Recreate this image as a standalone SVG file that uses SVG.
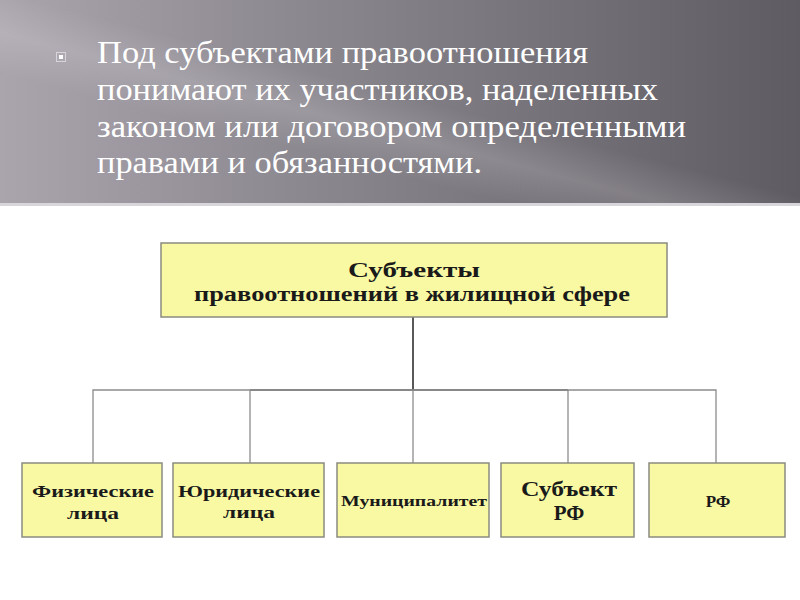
<svg xmlns="http://www.w3.org/2000/svg" width="800" height="600" viewBox="0 0 800 600">
<defs>
<linearGradient id="hdr" x1="0" y1="0" x2="1" y2="0">
<stop offset="0" stop-color="#aaa4ad"/>
<stop offset="0.35" stop-color="#8e8a92"/>
<stop offset="1" stop-color="#5f5b62"/>
</linearGradient>
<linearGradient id="streak" x1="0" y1="1" x2="1" y2="0">
<stop offset="0" stop-color="#ffffff" stop-opacity="0"/>
<stop offset="0.32" stop-color="#ffffff" stop-opacity="0"/>
<stop offset="0.42" stop-color="#ffffff" stop-opacity="0.14"/>
<stop offset="0.52" stop-color="#ffffff" stop-opacity="0"/>
<stop offset="1" stop-color="#ffffff" stop-opacity="0"/>
</linearGradient>
</defs>
<style>
.hd{font-size:31px;fill:#ffffff}
.box{fill:#f9f9a3;stroke:#8a8a80;stroke-width:1.5}
.lbl{font-weight:bold;fill:#1a1a1a;text-anchor:middle}
.con{stroke:#8c8c8c;stroke-width:1.3;fill:none}
</style>
<rect x="0" y="0" width="800" height="600" fill="#ffffff"/>
<rect x="0" y="0" width="800" height="205" fill="url(#hdr)"/>
<rect x="0" y="0" width="800" height="205" fill="url(#streak)"/>
<rect x="0" y="203" width="800" height="3" fill="#d8d6da"/>
<g id="bullet">
<rect x="56.5" y="52.5" width="9" height="9" fill="none" stroke="#d8d4dc" stroke-width="1"/>
<rect x="59" y="55" width="4" height="4" fill="#ffffff"/>
</g>
<g id="heading" font-family="Liberation Serif, serif">
<text class="hd" x="97" y="63" textLength="491" lengthAdjust="spacingAndGlyphs">Под субъектами правоотношения</text>
<text class="hd" x="97" y="100" textLength="561" lengthAdjust="spacingAndGlyphs">понимают их участников, наделенных</text>
<text class="hd" x="97" y="137" textLength="589" lengthAdjust="spacingAndGlyphs">законом или договором определенными</text>
<text class="hd" x="97" y="173" textLength="385" lengthAdjust="spacingAndGlyphs">правами и обязанностями.</text>
</g>
<g id="connectors">
<line x1="413" y1="317" x2="413" y2="390" stroke="#222" stroke-width="1.5"/>
<line x1="250" y1="390" x2="568" y2="390" stroke="#555" stroke-width="1.5"/>
<polyline class="con" points="93,463 93,390 716,390 716,463"/>
<line class="con" x1="250" y1="390" x2="250" y2="463"/>
<line class="con" x1="413" y1="390" x2="413" y2="463"/>
<line class="con" x1="568" y1="390" x2="568" y2="463"/>
</g>
<g font-family="Liberation Serif, serif">
<g id="root">
<rect class="box" x="161" y="243" width="506" height="74"/>
<text class="lbl" x="414" y="277" font-size="20" textLength="132" lengthAdjust="spacingAndGlyphs">Субъекты</text>
<text class="lbl" x="412" y="301" font-size="20" textLength="436" lengthAdjust="spacingAndGlyphs">правоотношений в жилищной сфере</text>
</g>
<g id="n1">
<rect class="box" x="22" y="463" width="140" height="74"/>
<text class="lbl" x="93" y="497" font-size="16" textLength="122" lengthAdjust="spacingAndGlyphs">Физические</text>
<text class="lbl" x="93" y="519" font-size="16" textLength="52" lengthAdjust="spacingAndGlyphs">лица</text>
</g>
<g id="n2">
<rect class="box" x="173" y="463" width="151" height="74"/>
<text class="lbl" x="249" y="497" font-size="16" textLength="142" lengthAdjust="spacingAndGlyphs">Юридические</text>
<text class="lbl" x="249" y="518" font-size="16" textLength="52" lengthAdjust="spacingAndGlyphs">лица</text>
</g>
<g id="n3">
<rect class="box" x="337" y="463" width="152" height="74"/>
<text class="lbl" x="414" y="506" font-size="15" textLength="146" lengthAdjust="spacingAndGlyphs">Муниципалитет</text>
</g>
<g id="n4">
<rect class="box" x="501" y="463" width="133" height="74"/>
<text class="lbl" x="569" y="496" font-size="21" textLength="96" lengthAdjust="spacingAndGlyphs">Субъект</text>
<text class="lbl" x="569" y="520" font-size="21">РФ</text>
</g>
<g id="n5">
<rect class="box" x="649" y="463" width="136" height="74"/>
<text class="lbl" x="718" y="507" font-size="17">РФ</text>
</g>
</g>
</svg>
